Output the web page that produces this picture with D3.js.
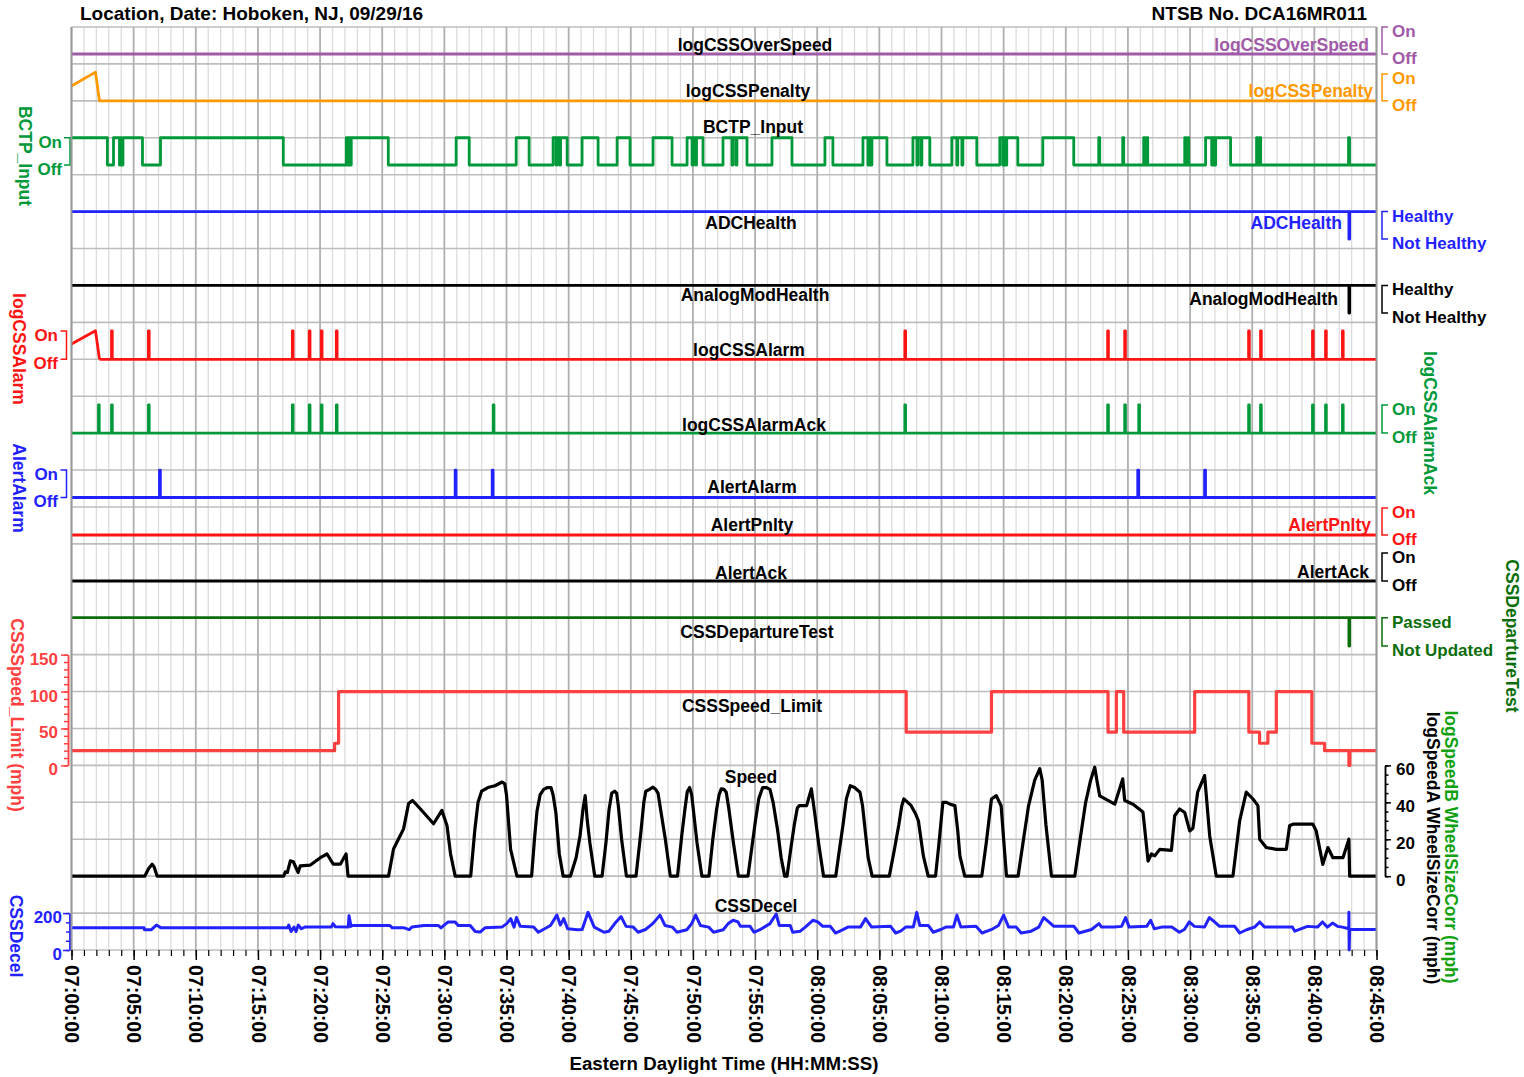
<!DOCTYPE html>
<html><head><meta charset="utf-8">
<script src="https://cdn.jsdelivr.net/npm/d3@7"></script>
<style>
body{margin:0;background:#fff;}
svg text{font-family:"Liberation Sans",Arial,Helvetica,sans-serif;font-weight:bold;}
</style></head><body>
<svg id="chart" width="1524" height="1077"></svg>
<script>
// ---------------- DATA (time in minutes after 07:00:00) ----------------
const tickMinutes = [0,5,10,15,20,25,30,35,40,45,50,55,60,65,70,75,80,85,90,95,100,105];
const tickLabels = ["07:00:00","07:05:00","07:10:00","07:15:00","07:20:00","07:25:00","07:30:00","07:35:00","07:40:00","07:45:00","07:50:00","07:55:00","08:00:00","08:05:00","08:10:00","08:15:00","08:20:00","08:25:00","08:30:00","08:35:00","08:40:00","08:45:00"];

const overSpeedSteps = [[0,0]];
const penaltyPoints = [[0,0.55],[1.93,1.07],[2.25,0],[105,0]];
const bctpToggles = [2.89,3.38,3.86,3.94,4.02,4.14,5.71,7.16,17.04,22.11,22.23,22.31,22.43,22.51,25.49,30.95,32.00,35.78,36.82,38.75,38.99,39.07,39.27,39.35,39.88,41.08,42.37,43.90,44.94,46.79,48.32,49.53,49.93,50.01,50.21,50.29,50.81,52.42,53.14,53.22,53.46,53.54,54.35,56.36,57.97,60.62,61.26,63.68,64.08,64.16,64.32,64.40,65.61,67.70,68.02,68.10,68.34,68.42,69.06,70.83,71.23,71.31,71.64,71.72,72.84,74.69,74.93,75.01,75.17,75.25,76.14,78.15,80.64,82.65,82.73,84.58,84.66,86.27,86.35,86.47,86.59,89.57,89.65,89.81,89.89,91.25,91.74,91.82,91.98,92.06,93.26,95.35,95.43,95.59,95.68,102.75,102.83];
const adcSteps = [[0,1],[102.78,0],[102.84,1]];
const analogSteps = [[0,1],[102.78,0],[102.84,1]];
const alarmRamp = [[0,0.54],[1.93,1.01],[2.25,0]];
const alarmPulses = [3.22,6.19,17.77,19.13,20.10,21.31,67.05,83.37,84.74,94.71,95.67,99.85,100.90,102.26];
const ackPulses = [2.17,3.22,6.19,17.77,19.13,20.10,21.31,33.93,67.05,83.37,84.74,85.87,94.71,95.67,99.85,100.90,102.26];
const alertAlarmPulses = [7.08,30.87,33.85,85.79,91.17];
const alertPnltySteps = [[0,0]];
const alertAckSteps = [[0,0]];
const departureSteps = [[0,1],[102.78,0],[102.84,1]];
const limitSteps = [[0,20],[21.17,30],[21.49,100],[67.16,45],[74.02,100],[83.40,45],[84.07,100],[84.66,45],[90.37,100],[94.73,45],[95.59,30],[96.26,45],[96.94,100],[99.80,30],[100.82,20],[102.78,0],[102.86,20]];
const speedPoints = [
[0,0],[5.89,0],[6.2,4],[6.49,6.5],[6.65,5],[6.89,0],[17.07,0],[17.21,2.3],[17.37,2],[17.61,8.3],[17.85,7.8],[18.23,2],[18.41,5.6],[19.22,6],[20.02,10],[20.56,12],[21.06,6.5],[21.63,6.5],[22.09,12],[22.25,0],
[25.51,0],[25.91,14.7],[26.3,20],[26.72,25.6],[27.12,39.3],[27.44,41],[28.06,36.5],[29.13,28.4],[29.80,35.6],[30.21,27.5],[30.5,12],[30.87,0],
[32.12,0],[32.45,25],[32.71,40],[33.0,46],[33.5,48],[34.07,49],[34.65,51],[34.86,50],[35.0,44],[35.33,14.5],[35.84,0],
[37.02,0],[37.25,20],[37.45,35],[37.7,44],[37.99,47],[38.3,48],[38.58,48],[38.75,44],[38.97,34.5],[39.25,12],[39.56,0],
[40.14,0],[40.6,10],[40.92,22],[41.15,36],[41.33,43.6],[41.5,30],[41.71,18],[42.10,0],
[42.69,0],[43.0,18],[43.25,36],[43.47,45],[43.7,46],[43.86,45],[44.0,38],[44.26,20],[44.65,0],
[45.42,0],[45.83,25],[46.05,40],[46.21,46],[46.5,47],[46.79,48.2],[47.0,47],[47.19,45],[47.45,34],[47.78,20],[48.18,0],
[48.76,0],[49.1,22],[49.35,36],[49.55,46],[49.74,48],[49.9,44],[50.1,32],[50.33,18],[50.72,0],
[51.29,0],[51.6,20],[51.9,36],[52.1,44],[52.28,47.3],[52.5,47],[52.68,45.5],[52.9,36],[53.26,18],[53.66,0],
[54.43,0],[54.75,16],[55.03,30],[55.3,42],[55.61,48],[55.9,48],[56.2,47],[56.45,40],[56.79,26],[57.1,10],[57.38,0],
[57.57,0],[57.9,16],[58.16,28],[58.4,37],[58.56,38.2],[59.15,38.2],[59.35,43],[59.53,47.3],[59.8,34],[60.11,18],[60.51,0],
[61.49,0],[61.8,15],[62.08,28],[62.35,42],[62.66,49],[63.0,48],[63.44,45.5],[63.65,38],[63.84,26],[64.1,10],[64.42,0],
[65.80,0],[66.2,14],[66.57,28],[66.8,38],[66.97,41.8],[67.2,40.5],[67.56,38.2],[67.9,34],[68.14,30],[68.35,20],[68.54,11],[68.93,0],
[69.52,0],[69.8,18],[70.11,40],[70.4,40],[70.69,39],[71.08,38.2],[71.3,25],[71.48,11],[71.87,0],
[73.24,0],[73.6,18],[74.02,41.8],[74.41,43.6],[74.8,38],[75.0,20],[75.23,0],
[76.16,0],[76.6,20],[77.0,38],[77.5,52],[77.91,58.2],[78.1,52],[78.4,28],[78.85,0],
[80.72,0],[81.2,22],[81.6,40],[82.0,52],[82.33,59],[82.5,52],[82.73,43.5],[83.94,39],[84.58,52.7],[84.74,41],[85.41,39],[86.21,34.7],[86.62,8.2],[86.89,12],[87.16,11],[87.56,14.5],[88.50,14],[88.76,32.7],[89.16,36.4],[89.57,34.5],[89.97,24.5],[90.23,26],[90.61,45.5],[91.17,54.5],[91.58,21.8],[92.11,0],
[93.45,0],[93.99,30],[94.52,45.5],[95.06,41.8],[95.46,38.2],[95.60,20],[96.13,15.5],[96.94,14.5],[97.74,14.5],[98.01,27.3],[98.28,28.2],[99.88,28.2],[100.15,24.5],[100.68,6.4],[101.09,15.5],[101.49,10],[102.30,10],[102.78,20],[102.84,0],[105,0]
];
const decelPoints = [
[0,120],[5.84,120],[5.87,110],[6.43,110],[6.83,135],[7.21,120],[17.40,120],[17.48,135],[17.67,100],[17.90,124],[18.07,100],[18.25,135],[18.49,115],[18.77,124],
[20.90,124],[21.04,143],[21.23,126],[22.27,124],[22.33,185],[22.49,128],[22.59,133],[25.62,133],[25.81,120],[26.77,120],[27.17,110],[27.38,124],[28.38,133],[29.51,133],
[29.73,120],[30.13,143],[30.31,152],[30.87,152],[31.11,133],[32.08,133],[32.48,100],[32.88,97],[33.26,120],[34.63,124],[35.02,143],[35.34,170],[35.61,124],[35.80,176],
[36.11,128],[37.18,124],[37.56,96],[37.96,111],[38.54,133],[39.05,189],[39.33,135],[39.60,170],[39.92,115],[40.70,110],[41.09,111],[41.56,204],[42.06,124],[42.85,96],
[43.25,102],[43.71,143],[44.22,181],[44.62,128],[45.20,124],[45.59,96],[46.18,111],[46.77,143],[47.35,189],[47.75,133],[48.34,124],[48.72,96],[49.51,110],[49.90,143],
[50.22,189],[50.60,133],[51.27,124],[51.66,96],[52.44,110],[52.84,143],[53.23,161],[53.63,152],[53.82,128],[54.60,128],[54.91,96],[55.39,110],[56.20,143],[56.70,195],
[56.94,133],[57.83,133],[58.03,96],[58.64,102],[59.04,124],[59.65,161],[60.05,152],[60.45,128],[61.06,128],[61.47,92],[62.07,110],[62.47,124],[63.48,124],[63.89,170],
[64.38,124],[65.91,128],[66.31,92],[66.71,102],[67.12,124],[67.73,124],[68.01,204],[68.25,133],[68.94,133],[69.34,96],[69.94,111],[70.35,124],[70.96,124],[71.24,189],
[71.56,124],[72.78,128],[73.26,92],[73.99,110],[74.59,133],[75.00,189],[75.40,124],[76.01,124],[76.41,92],[77.22,102],[77.83,124],[78.23,176],[78.63,152],[79.04,128],
[80.66,128],[81.06,92],[82.07,111],[82.67,143],[82.88,124],[83.89,124],[84.49,128],[84.81,176],[85.10,124],[86.51,128],[86.83,161],[87.12,115],[87.72,124],[88.53,124],
[89.14,96],[89.54,111],[89.94,152],[90.35,128],[91.16,124],[91.56,176],[91.97,152],[92.37,128],[93.59,128],[93.99,92],[94.59,111],[95.19,124],[95.60,152],[96.00,124],
[98.23,124],[98.43,102],[99.44,128],[100.25,124],[100.65,152],[101.05,124],[101.46,146],[101.86,128],[102.26,124],[102.77,115],[102.78,204],[102.80,0],[102.84,111],[105,111]
];

// ---------------- LAYOUT ----------------
const svg = d3.select("#chart");
const X0 = 71.5, X1 = 1376.5, Y0 = 27, Y1 = 950, ROWS = 25;
const rowH = (Y1 - Y0) / ROWS;
const gy = k => Y0 + k * rowH;
const x = d3.scaleLinear().domain([0, 105]).range([X0, X1]);
const FS = 17.5;

const C = {
  purple:"#a05aa8", orange:"#ff9900", green:"#00993a", blue:"#2222ff", black:"#000",
  red:"#ff1414", lred:"#ff4040", dgreen:"#0b6e0b", bgreen:"#10a010"
};

// grid
const grid = svg.append("g");
grid.selectAll(".vmin").data(d3.range(0,106).filter(m => m % 5)).join("line")
  .attr("x1", d => x(d)).attr("x2", d => x(d)).attr("y1", Y0).attr("y2", Y1)
  .attr("stroke", "#dcdcdc").attr("stroke-width", 1.3);
grid.selectAll(".h").data(d3.range(0, ROWS + 1)).join("line")
  .attr("x1", X0).attr("x2", X1).attr("y1", d => gy(d)).attr("y2", d => gy(d))
  .attr("stroke", "#bdbdbd").attr("stroke-width", 1.6);
grid.selectAll(".vmaj").data(tickMinutes).join("line")
  .attr("x1", d => x(d)).attr("x2", d => x(d)).attr("y1", Y0).attr("y2", Y1)
  .attr("stroke", "#b0b0b0").attr("stroke-width", 1.8);

// x axis
const xAxisMinor = d3.axisBottom(x).tickValues(d3.range(0,106)).tickSize(6).tickFormat("");
const gxm = svg.append("g").attr("transform", `translate(0,${Y1})`).call(xAxisMinor);
gxm.select(".domain").remove();
gxm.selectAll("line").attr("stroke", "#000").attr("stroke-width", 1.2);
const xAxis = d3.axisBottom(x).tickValues(tickMinutes).tickSize(10).tickFormat((d, i) => tickLabels[i]);
const gx = svg.append("g").attr("transform", `translate(0,${Y1})`).call(xAxis);
gx.select(".domain").remove();
gx.selectAll("line").attr("stroke", "#000").attr("stroke-width", 1.5);
gx.selectAll("text").attr("transform", "rotate(90)").attr("x", 15).attr("y", 0).attr("dy", "0.35em")
  .style("text-anchor", "start").style("font-size", "19.5px").attr("fill", "#000");

svg.append("text").attr("x", 724).attr("y", 1070).attr("text-anchor", "middle")
  .style("font-size", "18.7px").text("Eastern Daylight Time (HH:MM:SS)");
svg.append("text").attr("x", 80).attr("y", 20).style("font-size", "19px").text("Location, Date: Hoboken, NJ, 09/29/16");
svg.append("text").attr("x", 1367).attr("y", 20).attr("text-anchor", "end").style("font-size", "19px").text("NTSB No. DCA16MR011");

// helpers
const stepLine = ys => d3.line().x(d => x(d[0])).y(d => ys(d[1])).curve(d3.curveStepAfter);
const linLine = ys => d3.line().x(d => x(d[0])).y(d => ys(d[1]));
const closeSteps = s => s.concat([[105, s[s.length - 1][1]]]);
const fromToggles = (init, tg) => { let s = init; const out = [[0, s]]; tg.forEach(t => { s = 1 - s; out.push([t, s]); }); return closeSteps(out); };
const fromPulses = (start, ps, w) => { const out = [[start, 0]]; ps.forEach(p => { out.push([p, 1]); out.push([p + w, 0]); }); return closeSteps(out); };

function drawPath(data, ys, color, width, step) {
  svg.append("path").datum(data).attr("d", (step ? stepLine(ys) : linLine(ys))(data))
    .attr("fill", "none").attr("stroke", color).attr("stroke-width", width)
    .attr("stroke-linejoin", "round");
}
function rightBracket(yOn, yOff, color, labels) {
  svg.append("path").attr("d", `M1388,${yOn}H1382V${yOff}H1388`).attr("fill", "none").attr("stroke", color).attr("stroke-width", 1.5);
  svg.append("text").attr("x", 1392).attr("y", yOn + 4).attr("dy", "0.35em").attr("fill", color).style("font-size", "17px").text(labels[0]);
  svg.append("text").attr("x", 1392).attr("y", yOff + 4).attr("dy", "0.35em").attr("fill", color).style("font-size", "17px").text(labels[1]);
}
function leftBracket(yOn, yOff, color, bx, tx) {
  svg.append("path").attr("d", `M${bx - 6},${yOn}H${bx}V${yOff}H${bx - 6}`).attr("fill", "none").attr("stroke", color).attr("stroke-width", 1.5);
  svg.append("text").attr("x", tx).attr("y", yOn + 4).attr("dy", "0.35em").attr("text-anchor", "end").attr("fill", color).style("font-size", "17px").text("On");
  svg.append("text").attr("x", tx).attr("y", yOff + 4).attr("dy", "0.35em").attr("text-anchor", "end").attr("fill", color).style("font-size", "17px").text("Off");
}
function rotLabel(cx, cy, color, txt) {
  svg.append("text").attr("transform", `translate(${cx},${cy}) rotate(90)`).attr("text-anchor", "middle")
    .attr("dy", "0.35em").attr("fill", color).style("font-size", FS + "px").text(txt);
}
function label(cx, cy, txt, color, anchor) {
  svg.append("text").attr("x", cx).attr("y", cy).attr("dy", "0.35em").attr("text-anchor", anchor || "middle")
    .attr("fill", color || "#000").style("font-size", FS + "px").text(txt);
}
const ds = (on, off) => d3.scaleLinear().domain([0, 1]).range([off, on]);

// rows (y positions of On / Off levels)
const Lay = {
  over:[27,54], pen:[74,gy(2)], bctp:[gy(3),165], adc:[gy(5),239], analog:[gy(7),313],
  alarm:[331,gy(9)], ack:[405,gy(11)], aAlarm:[gy(12),497.5], aPnl:[508,535], aAck:[553,581], dep:[gy(16),646]
};

// digital signals
drawPath(closeSteps(overSpeedSteps), ds(...Lay.over), C.purple, 2.8, true);
drawPath(penaltyPoints, ds(...Lay.pen), C.orange, 2.8, false);
drawPath(fromToggles(1, bctpToggles), ds(...Lay.bctp), C.green, 2.8, true);
drawPath(closeSteps(adcSteps), ds(...Lay.adc), C.blue, 2.8, true);
drawPath(closeSteps(analogSteps), ds(...Lay.analog), C.black, 2.8, true);
drawPath(alarmRamp, ds(...Lay.alarm), C.red, 2.8, false);
drawPath(fromPulses(alarmRamp[alarmRamp.length - 1][0], alarmPulses, 0.06), ds(...Lay.alarm), C.red, 2.8, true);
drawPath(fromPulses(0, ackPulses, 0.06), ds(...Lay.ack), C.green, 2.8, true);
drawPath(fromPulses(0, alertAlarmPulses, 0.07), ds(...Lay.aAlarm), C.blue, 2.8, true);
drawPath(closeSteps(alertPnltySteps), ds(...Lay.aPnl), C.red, 2.8, true);
drawPath(closeSteps(alertAckSteps), ds(...Lay.aAck), C.black, 2.8, true);
drawPath(closeSteps(departureSteps), ds(...Lay.dep), C.dgreen, 2.8, true);

// continuous signals
const yLimit = d3.scaleLinear().domain([0, 150]).range([gy(20), gy(17)]);
const ySpeed = d3.scaleLinear().domain([0, 60]).range([gy(23), gy(20)]);
const yDecel = d3.scaleLinear().domain([0, 200]).range([gy(25), gy(24)]);
drawPath(closeSteps(limitSteps), yLimit, C.lred, 3.2, true);
drawPath(speedPoints, ySpeed, C.black, 3.2, false);
drawPath(decelPoints, yDecel, C.blue, 3, false);

// axes for continuous
function styleAxis(g, color) {
  g.selectAll("line,path").attr("stroke", color).attr("stroke-width", 1.5);
  g.selectAll("text").attr("fill", color).style("font-size", "17px").attr("y", 4);
}
const gL1 = svg.append("g").attr("transform", "translate(68,0)").call(d3.axisLeft(yLimit).tickValues(d3.range(0,151,10)).tickSize(4).tickSizeOuter(0).tickFormat(""));
styleAxis(gL1, C.lred);
const gL2 = svg.append("g").attr("transform", "translate(68,0)").call(d3.axisLeft(yLimit).tickValues([0,50,100,150]).tickSize(7).tickSizeOuter(0).tickPadding(3));
styleAxis(gL2, C.lred);
const gS1 = svg.append("g").attr("transform", "translate(1385,0)").call(d3.axisRight(ySpeed).tickValues(d3.range(0,61,5)).tickSize(3.5).tickSizeOuter(0).tickFormat(""));
styleAxis(gS1, "#000");
const gS2 = svg.append("g").attr("transform", "translate(1385,0)").call(d3.axisRight(ySpeed).tickValues([0,20,40,60]).tickSize(6).tickSizeOuter(0).tickPadding(5));
styleAxis(gS2, "#000");
const gD1 = svg.append("g").attr("transform", "translate(69.5,0)").call(d3.axisLeft(yDecel).tickValues(d3.range(0,201,50)).tickSize(3.5).tickSizeOuter(0).tickFormat(""));
styleAxis(gD1, C.blue);
const gD2 = svg.append("g").attr("transform", "translate(69.5,0)").call(d3.axisLeft(yDecel).tickValues([0,200]).tickSize(6.5).tickSizeOuter(0).tickPadding(1));
styleAxis(gD2, C.blue);

// brackets / state labels
rightBracket(...Lay.over, C.purple, ["On","Off"]);
rightBracket(...Lay.pen, C.orange, ["On","Off"]);
rightBracket(...Lay.adc, C.blue, ["Healthy","Not Healthy"]);
rightBracket(...Lay.analog, C.black, ["Healthy","Not Healthy"]);
rightBracket(...Lay.ack, C.green, ["On","Off"]);
rightBracket(...Lay.aPnl, C.red, ["On","Off"]);
rightBracket(...Lay.aAck, C.black, ["On","Off"]);
rightBracket(...Lay.dep, C.dgreen, ["Passed","Not Updated"]);
leftBracket(...Lay.bctp, C.green, 70, 62);
leftBracket(...Lay.alarm, C.red, 66.5, 58);
leftBracket(...Lay.aAlarm, C.blue, 66.5, 58);

// rotated axis titles
rotLabel(25, 156, C.green, "BCTP_Input");
rotLabel(19, 349, C.red, "logCSSAlarm");
rotLabel(19, 488, C.blue, "AlertAlarm");
rotLabel(17, 715, C.lred, "CSSSpeed_Limit (mph)");
rotLabel(16, 936, C.blue, "CSSDecel");
rotLabel(1430, 423, C.green, "logCSSAlarmAck");
rotLabel(1512, 636, C.dgreen, "CSSDepartureTest");
rotLabel(1451, 847, C.bgreen, "logSpeedB WheelSizeCorr (mph)");
rotLabel(1433, 848, C.black, "logSpeedA WheelSizeCorr (mph)");

// inline series labels
const centerLabels = ["logCSSOverSpeed","logCSSPenalty","BCTP_Input","ADCHealth","AnalogModHealth","logCSSAlarm","logCSSAlarmAck","AlertAlarm","AlertPnlty","AlertAck","CSSDepartureTest","CSSSpeed_Limit","Speed","CSSDecel"];
const centerPos = [[755,45],[748,91],[753,127],[751,223],[755,295],[749,350],[754,425],[752,487],[752,525],[751,573],[757,632],[752,706],[751,777],[756,906]];
centerLabels.forEach((t, i) => label(centerPos[i][0], centerPos[i][1], t));
const rightLabels = ["logCSSOverSpeed","logCSSPenalty","ADCHealth","AnalogModHealth","AlertPnlty","AlertAck"];
const rightPos = [[1369,45,C.purple],[1373,91,C.orange],[1342,223,C.blue],[1338,299,C.black],[1371,525,C.red],[1369,572,C.black]];
rightLabels.forEach((t, i) => label(rightPos[i][0], rightPos[i][1], t, rightPos[i][2], "end"));

// plot borders
svg.append("line").attr("x1", X0).attr("x2", X0).attr("y1", Y0).attr("y2", Y1).attr("stroke", "#999").attr("stroke-width", 1.8);
svg.append("line").attr("x1", X1).attr("x2", X1).attr("y1", Y0).attr("y2", Y1).attr("stroke", "#999").attr("stroke-width", 1.8);
</script></body></html>
